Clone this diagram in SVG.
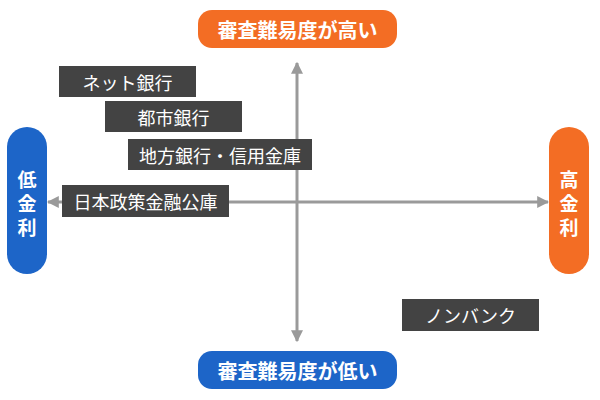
<svg xmlns="http://www.w3.org/2000/svg" width="600" height="400" viewBox="0 0 600 400">
<style>
.bg{fill:#ffffff}
.orange{fill:#F36D24}
.blue{fill:#1D65C8}
.dark{fill:#434343}
.lbl{font-family:"Noto Sans CJK JP","Noto Sans",sans-serif;fill:#ffffff;text-anchor:middle;dominant-baseline:central}
.pill{font-size:20px;font-weight:bold}
.vert{font-family:"Noto Sans CJK JP","Noto Sans",sans-serif;fill:#ffffff;font-size:19px;font-weight:bold;writing-mode:vertical-rl;text-anchor:middle;letter-spacing:5px}
.box{font-size:18px}
.axis{stroke:#9a9a9a;stroke-width:3;fill:none}
</style>
<defs>
<marker id="ah" viewBox="0 0 10 10" refX="9" refY="5" markerWidth="4" markerHeight="4" orient="auto" markerUnits="strokeWidth">
<path d="M0,0 L10,5 L0,10 z" fill="#9a9a9a"/>
</marker>
</defs>
<rect class="bg" x="0" y="0" width="600" height="400"/>
<g id="connectors">
<line class="axis" x1="297" y1="200" x2="297" y2="63" marker-end="url(#ah)"/>
<line class="axis" x1="297" y1="200" x2="297" y2="341" marker-end="url(#ah)"/>
<line class="axis" x1="297" y1="202" x2="548" y2="202" marker-end="url(#ah)"/>
<line class="axis" x1="297" y1="202" x2="48" y2="202" marker-end="url(#ah)"/>
</g>
<g id="top-label">
<rect class="orange" x="198" y="10" width="199" height="38" rx="14"/>
<text class="lbl pill" x="297.5" y="29">審査難易度が高い</text>
</g>
<g id="bottom-label">
<rect class="blue" x="198" y="351" width="199" height="38" rx="14"/>
<text class="lbl pill" x="297.5" y="370">審査難易度が低い</text>
</g>
<g id="left-label">
<rect class="blue" x="7" y="127" width="40" height="147" rx="20"/>
<text class="vert" x="27" y="206">低金利</text>
</g>
<g id="right-label">
<rect class="orange" x="549" y="127" width="40" height="147" rx="20"/>
<text class="vert" x="569" y="206">高金利</text>
</g>
<g id="net-bank">
<rect class="dark" x="59" y="66" width="137" height="31"/>
<text class="lbl box" x="127.5" y="81.5">ネット銀行</text>
</g>
<g id="city-bank">
<rect class="dark" x="105" y="101" width="137" height="31"/>
<text class="lbl box" x="173.5" y="116.5">都市銀行</text>
</g>
<g id="regional-bank">
<rect class="dark" x="128" y="139" width="184" height="31"/>
<text class="lbl box" x="220" y="154.5">地方銀行・信用金庫</text>
</g>
<g id="jfc">
<rect class="dark" x="62" y="185" width="167" height="32"/>
<text class="lbl box" x="145.5" y="201">日本政策金融公庫</text>
</g>
<g id="nonbank">
<rect class="dark" x="402" y="299" width="137" height="32"/>
<text class="lbl box" x="470.5" y="314.5">ノンバンク</text>
</g>
</svg>
